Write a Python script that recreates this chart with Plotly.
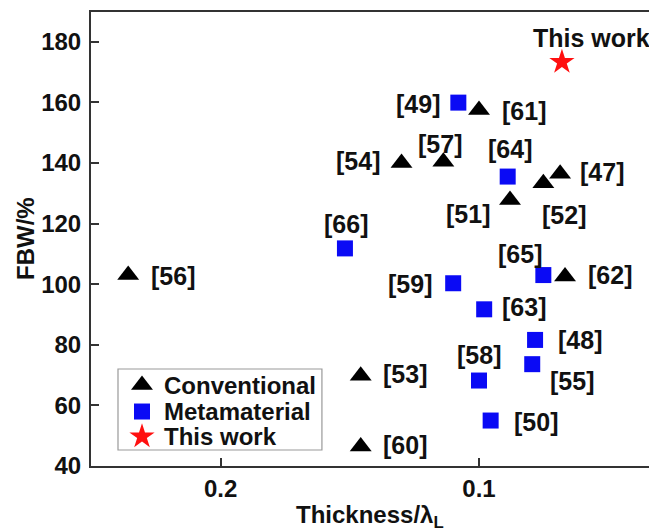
import plotly.graph_objects as go

# Conventional designs (triangles)
conv_refs = ["[61]", "[54]", "[57]", "[47]", "[52]", "[51]", "[56]", "[62]", "[53]", "[60]"]
conv_thick = [0.100, 0.130, 0.1138, 0.0686, 0.0751, 0.088, 0.2358, 0.0667, 0.1458, 0.1458]
conv_fbw = [157.5, 140.0, 140.4, 136.4, 133.3, 127.8, 103.0, 102.5, 69.8, 46.4]

# Metamaterial designs (squares)
meta_refs = ["[49]", "[64]", "[66]", "[65]", "[59]", "[63]", "[48]", "[55]", "[58]", "[50]"]
meta_thick = [0.108, 0.0889, 0.1519, 0.0751, 0.110, 0.098, 0.0783, 0.0794, 0.100, 0.0955]
meta_fbw = [159.9, 135.5, 111.8, 103.0, 100.3, 91.7, 81.6, 73.6, 68.2, 55.0]

# This work (star)
this_thick = [0.0679]
this_fbw = [173.3]

# axis ticks
x_ticks = [0.2, 0.1]
x_ticktext = ["0.2", "0.1"]
y_ticks = [40, 60, 80, 100, 120, 140, 160, 180]

# legend entries
legend_names = ["Conventional", "Metamaterial", "This work"]

# label offsets in pixels (dx, dy) relative to the marker
conv_off = [(45, -1), (-44, 2), (-3, 18), (42, 2), (21, -32), (-42, -14), (45, -1), (45, 2), (44, 2), (44, 2)]
meta_off = [(-40, -1), (2, 28), (1, 24), (-23, 21), (-43, -1), (40, 2), (45, 0), (40, -17), (0, 26), (45, -1)]
this_off = (30, 24)

FONT = "Liberation Sans, Arial, sans-serif"
TXT = "#111"
styles = [dict(symbol="triangle-up", size=19, color="black"),
          dict(symbol="square", size=16, color="#0a0af5"),
          dict(symbol="star", size=19, color="#ff1010")]

fig = go.Figure()
fig.add_trace(go.Scatter(x=conv_thick, y=conv_fbw, mode="markers", name=legend_names[0],
                         marker=styles[0], showlegend=False))
fig.add_trace(go.Scatter(x=meta_thick, y=meta_fbw, mode="markers", name=legend_names[1],
                         marker=styles[1], showlegend=False))
fig.add_trace(go.Scatter(x=this_thick, y=this_fbw, mode="markers", name=legend_names[2],
                         marker=styles[2], showlegend=False))

anns = []
for refs, xs, ys, offs in [(conv_refs, conv_thick, conv_fbw, conv_off),
                           (meta_refs, meta_thick, meta_fbw, meta_off),
                           (["This work"], this_thick, this_fbw, [this_off])]:
    for r, xv, yv, (dx, dy) in zip(refs, xs, ys, offs):
        anns.append(dict(x=xv, y=yv, xref="x", yref="y", text=r, showarrow=False,
                         xshift=dx, yshift=dy,
                         font=dict(size=25, color=TXT, family=FONT, weight="bold")))

# legend drawn in plot-area fractions (overlay axes for key markers)
leg_box = (0.0477, 0.0352, 0.408, 0.2137)
leg_key_x = 0.0901
leg_text_x = 0.1254
leg_rows = [0.1784, 0.120, 0.065]
fig.add_shape(type="rect", xref="paper", yref="paper",
              x0=leg_box[0], y0=leg_box[1], x1=leg_box[2], y1=leg_box[3],
              line=dict(color="#9a9a9a", width=1.2), fillcolor="white", layer="below")
for name, st, ry in zip(legend_names, styles, leg_rows):
    fig.add_trace(go.Scatter(x=[leg_key_x], y=[ry], xaxis="x2", yaxis="y2", mode="markers",
                             marker=st, showlegend=False, hoverinfo="skip"))
    anns.append(dict(x=leg_text_x, y=ry, xref="paper", yref="paper", xanchor="left",
                     yanchor="middle", text=name, showarrow=False,
                     font=dict(size=24, color=TXT, family=FONT, weight="bold")))

# axis titles
anns.append(dict(x=0.493, y=-0.1123, xref="paper", yref="paper", xanchor="center", yanchor="middle",
                 text="Thickness/λ<sub>L</sub>", showarrow=False,
                 font=dict(size=24, color=TXT, family=FONT, weight="bold")))
anns.append(dict(x=-0.1166, y=0.5, xref="paper", yref="paper", xanchor="center", yanchor="middle",
                 text="FBW/%", showarrow=False, textangle=-90,
                 font=dict(size=24, color=TXT, family=FONT, weight="bold")))

# page body has an 8px margin, so the figure is 8px smaller and offset
fig.update_layout(
    width=649, height=524,
    margin=dict(l=83, r=0, t=4, b=66, autoexpand=False),
    plot_bgcolor="white", paper_bgcolor="white",
    font=dict(family=FONT, size=24, color=TXT, weight="bold"),
    annotations=anns,
    showlegend=False,
    xaxis=dict(range=[0.2502, 0.0311], tickvals=x_ticks, ticktext=x_ticktext,
               showline=True, linecolor="#333", linewidth=2, mirror=True,
               ticks="inside", ticklen=8, tickwidth=1.5, tickcolor="#333",
               showgrid=False, zeroline=False, automargin=False),
    yaxis=dict(range=[40, 189.8], tickvals=y_ticks,
               showline=True, linecolor="#333", linewidth=2, mirror=False,
               ticks="inside", ticklen=8, tickwidth=1.5, tickcolor="#333",
               ticklabelstandoff=3,
               showgrid=False, zeroline=False, automargin=False),
    xaxis2=dict(domain=[0, 1], range=[0, 1], overlaying="x", visible=False, fixedrange=True),
    yaxis2=dict(domain=[0, 1], range=[0, 1], overlaying="y", anchor="x2", visible=False, fixedrange=True),
)

fig.write_html("out.html")
